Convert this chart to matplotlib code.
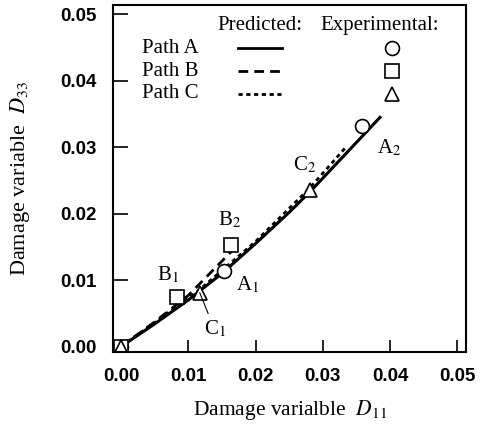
import numpy as np
import matplotlib.pyplot as plt
from matplotlib.lines import Line2D

plt.rcParams['font.family'] = 'Liberation Serif'
plt.rcParams['mathtext.fontset'] = 'stix'

# predicted damage paths (D11, D33)
a_x = [0.0, 0.005, 0.010, 0.015, 0.020, 0.025, 0.028, 0.032, 0.036, 0.0385]
a_y = [0.0, 0.0034, 0.0070, 0.0110, 0.0155, 0.0202, 0.0232, 0.0275, 0.0318, 0.0345]
b_x = [0.0, 0.005, 0.010, 0.0166]
b_y = [0.0, 0.0037, 0.0077, 0.0145]
c_x = [0.0, 0.005, 0.0115, 0.020, 0.028, 0.0336]
c_y = [0.0, 0.0036, 0.0084, 0.0158, 0.0238, 0.0302]

# experimental points
exp_a_x = [0.0, 0.0153, 0.0359]
exp_a_y = [0.0, 0.0113, 0.0332]
exp_b_x = [0.0, 0.0083, 0.0163]
exp_b_y = [0.0, 0.0074, 0.0153]
exp_c_x = [0.0, 0.0117, 0.0281]
exp_c_y = [0.0, 0.0081, 0.0236]

DASH_B = (3.5, 2.2)
DASH_C = (1.5, 1.3)

fig = plt.figure(figsize=(4.87, 4.28), dpi=100)
ax = fig.add_axes([0.232, 0.178, 0.725, 0.810])

ax.plot(a_x, a_y, 'k-', lw=2.2)
ax.plot(b_x, b_y, 'k', lw=2, dashes=DASH_B)
ax.plot(c_x, c_y, 'k', lw=2, dashes=DASH_C)

mk = dict(ls='none', mfc='white', mec='k', ms=10, mew=1.2)
ax.plot(exp_a_x, exp_a_y, marker='o', **mk)
ax.plot(exp_b_x, exp_b_y, marker='s', **mk)
ax.plot(exp_c_x, exp_c_y, marker='^', **mk)

ax.set_xlim(-0.0012, 0.0513)
ax.set_ylim(-0.0008, 0.0514)
ticks = [0.0, 0.01, 0.02, 0.03, 0.04, 0.05]
ax.set_xticks(ticks)
ax.set_yticks(ticks)
ax.set_xticklabels(['%.2f' % t for t in ticks], family='Liberation Sans', weight='bold', fontsize=13.5)
ax.set_yticklabels(['%.2f' % t for t in ticks], family='Liberation Sans', weight='bold', fontsize=13.5)
ax.tick_params(axis='y', direction='in', length=11, width=1.2, pad=12)
ax.tick_params(axis='x', direction='in', length=9, width=1.2, pad=12)
for s in ax.spines.values():
    s.set_linewidth(1.5)

ax.set_xlabel(r'Damage varialble  $D_{11}$', fontsize=15.5, labelpad=9)
ax.set_ylabel(r'Damage variable  $D_{33}$', fontsize=16, labelpad=20)

# point labels
fs = 15
ax.text(0.0070, 0.0108, r'B$_1$', fontsize=fs, ha='center', va='center')
ax.text(0.0161, 0.0191, r'B$_2$', fontsize=fs, ha='center', va='center')
ax.text(0.0188, 0.0093, r'A$_1$', fontsize=fs, ha='center', va='center')
ax.text(0.0399, 0.0299, r'A$_2$', fontsize=fs, ha='center', va='center')
ax.text(0.0273, 0.0274, r'C$_2$', fontsize=fs, ha='center', va='center')
ax.annotate(r'C$_1$', xy=(0.0117, 0.0081), xytext=(0.0139, 0.0026),
            fontsize=fs, ha='center', va='center',
            arrowprops=dict(arrowstyle='-', color='k', lw=0.8, shrinkB=0))

# legend table
tr = ax.transAxes
ax.text(0.297, 0.942, 'Predicted:', transform=tr, fontsize=fs, va='center')
ax.text(0.586, 0.942, 'Experimental:', transform=tr, fontsize=fs, va='center')
rows = [('Path A', None, 'o'), ('Path B', DASH_B, 's'), ('Path C', DASH_C, '^')]
for i, (name, dash, m) in enumerate(rows):
    y = 0.876 - i * 0.066
    ax.text(0.082, y, name, transform=tr, fontsize=fs, va='center')
    ln = Line2D([0.354, 0.479], [y, y], transform=tr, color='k', lw=2)
    if dash:
        ln.set_dashes(dash)
    ax.add_line(ln)
    ax.add_line(Line2D([0.79], [y], transform=tr, marker=m, **mk))

fig.savefig('out.png', dpi=100)
